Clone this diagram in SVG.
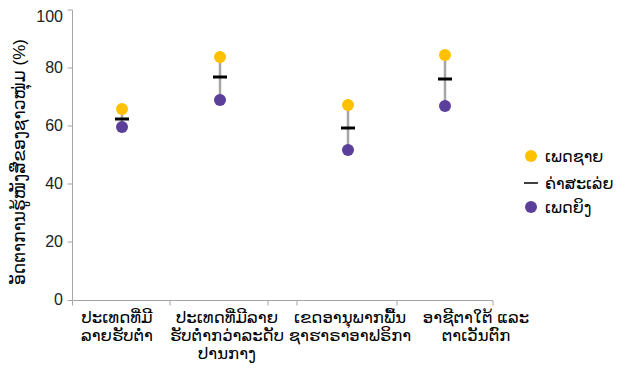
<svg xmlns="http://www.w3.org/2000/svg" width="628" height="376" viewBox="0 0 628 376">
<style>
text{font-family:"Liberation Sans","DejaVu Sans",sans-serif;fill:#000}
.num{font-size:16px;text-anchor:end;fill:#222}
.cat{font-size:16.5px;text-anchor:middle}
.leg{font-size:16px}
.ax{stroke:#a6a6a6;stroke-width:1;fill:none}
.hl{stroke:#a6a6a6;stroke-width:2.5}
.mean{stroke:#000;stroke-width:3}
.m{fill:#ffc000}
.f{fill:#5b3f9b}
</style>
<rect width="628" height="376" fill="#fff"/>
<g id="axes">
<path class="ax" d="M72.5 10V300.5H493M67.5 10H72.5M67.5 68H72.5M67.5 126H72.5M67.5 184H72.5M67.5 242H72.5M67.5 300.5H72.5M72.5 300.5V305.5M170 300.5V305.5M268 300.5V305.5M297 300.5V305.5M397 300.5V305.5M493 300.5V305.5"/>
<text class="num" x="63" y="22">100</text>
<text class="num" x="63" y="73">80</text>
<text class="num" x="63" y="131">60</text>
<text class="num" x="63" y="189">40</text>
<text class="num" x="63" y="247">20</text>
<text class="num" x="63" y="305">0</text>
<text font-size="17" text-anchor="middle" transform="translate(25 162) rotate(-90)">ອັດຕາການຮູ້ໜັງສືຂອງຊາວໜຸ່ມ (%)</text>
</g>
<g id="labels">
<text class="cat" x="117" y="323">ປະເທດທີ່ມີ</text>
<text class="cat" x="117" y="341">ລາຍຮັບຕໍ່າ</text>
<text class="cat" x="227" y="323">ປະເທດທີ່ມີລາຍ</text>
<text class="cat" x="227" y="341">ຮັບຕໍ່າກວ່າລະດັບ</text>
<text class="cat" x="227" y="359">ປານກາງ</text>
<text class="cat" x="350" y="323">ເຂດອານຸພາກພື້ນ</text>
<text class="cat" x="350" y="341">ຊາຮາຣາອາຟຣິກາ</text>
<text class="cat" x="476" y="323">ອາຊີຕາໃຕ້ ແລະ</text>
<text class="cat" x="476" y="341">ຕາເວັນຕົກ</text>
</g>
<g id="connectors">
<line class="hl" x1="122" y1="109" x2="122" y2="127"/>
<line class="hl" x1="220" y1="57" x2="220" y2="100"/>
<line class="hl" x1="348" y1="105" x2="348" y2="150"/>
<line class="hl" x1="445" y1="55" x2="445" y2="106"/>
</g>
<g id="cat1">
<circle class="m" cx="122" cy="109" r="6"/>
<circle class="f" cx="122" cy="127" r="6"/>
<line class="mean" x1="115" y1="119" x2="129" y2="119"/>
</g>
<g id="cat2">
<circle class="m" cx="220" cy="57" r="6"/>
<circle class="f" cx="220" cy="100" r="6"/>
<line class="mean" x1="213" y1="77" x2="227" y2="77"/>
</g>
<g id="cat3">
<circle class="m" cx="348" cy="105" r="6"/>
<circle class="f" cx="348" cy="150" r="6"/>
<line class="mean" x1="341" y1="128" x2="355" y2="128"/>
</g>
<g id="cat4">
<circle class="m" cx="445" cy="55" r="6"/>
<circle class="f" cx="445" cy="106" r="6"/>
<line class="mean" x1="438" y1="79" x2="452" y2="79"/>
</g>
<g id="legend">
<circle class="m" cx="531" cy="156" r="6"/>
<text class="leg" x="545" y="162">ເພດຊາຍ</text>
<line stroke="#000" stroke-width="1.5" x1="524" y1="183" x2="538" y2="183"/>
<text class="leg" x="545" y="189">ຄ່າສະເລ່ຍ</text>
<circle class="f" cx="531" cy="207" r="6"/>
<text class="leg" x="545" y="213">ເພດຍິງ</text>
</g>
</svg>
